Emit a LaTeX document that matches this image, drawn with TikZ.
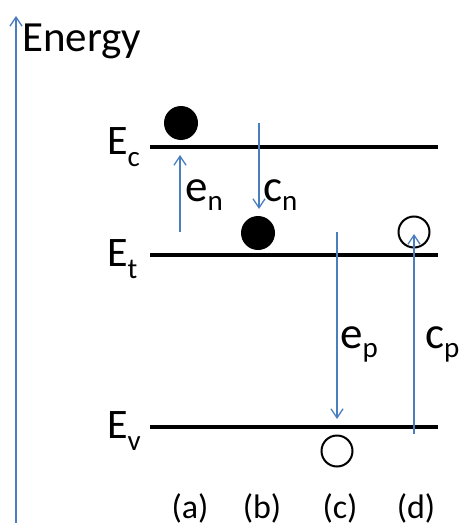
\documentclass[tikz,border=0pt]{standalone}
\usepackage{fontspec}
\setmainfont{Carlito}
\usepackage{tikz}
\usetikzlibrary{arrows.meta}
\definecolor{arrblue}{RGB}{74,126,190}
\newcommand{\lvl}[1]{E\raisebox{-12pt}{\fontsize{29}{31}\selectfont #1}}
\newcommand{\rate}[2]{#1\raisebox{-9pt}{\fontsize{29}{31}\selectfont #2}}
\tikzset{
  % --- energy levels ---------------------------------------------------------
  level/.style={line width=3.5pt},
  lvllab/.style={anchor=base west,inner sep=0pt,font=\fontsize{42}{44}\selectfont},
  % --- carriers --------------------------------------------------------------
  elec/.style={circle,fill=black,minimum size=34pt,inner sep=0pt},
  hole/.style={circle,draw=black,line width=2pt,minimum size=31pt,inner sep=0pt},
  % --- transitions -----------------------------------------------------------
  trans/.style={-{Straight Barb[length=9pt,width=12pt]},arrblue,line width=1.3pt},
  ratelab/.style={anchor=base west,inner sep=0pt,font=\fontsize{45}{47}\selectfont},
  caselab/.style={anchor=base,inner sep=0pt,font=\fontsize{34}{36}\selectfont},
}

\begin{document}
\begin{tikzpicture}[x=1pt, y=-1pt]
  \useasboundingbox (0,0) rectangle (459,527);

  % energy axis
  \coordinate (ax0) at (16,523);
  \coordinate (ax1) at (16,16);
  \draw[trans] (ax0) -- (ax1);
  \node[lvllab,font=\fontsize{43}{45}\selectfont] (energy) at (22,52) {Energy};

  % levels
  \coordinate (ec-l) at (150,147); \coordinate (ec-r) at (438,147);
  \coordinate (et-l) at (150,255); \coordinate (et-r) at (438,255);
  \coordinate (ev-l) at (150,427); \coordinate (ev-r) at (438,427);
  \draw[level] (ec-l) -- (ec-r);
  \draw[level] (et-l) -- (et-r);
  \draw[level] (ev-l) -- (ev-r);
  \node[lvllab] (ec) at (107,154) {\lvl{c}};
  \node[lvllab] (et) at (107,266) {\lvl{t}};
  \node[lvllab] (ev) at (107,438) {\lvl{v}};

  % carriers
  \node[elec] (na) at (181,123) {};
  \node[elec] (nb) at (258,233) {};
  \node[hole] (pc) at (337,451) {};
  \node[hole] (pd) at (414,232) {};

  % transitions
  \coordinate (a0) at (180,232); \coordinate (a1) at (180,155);
  \coordinate (b0) at (259,123); \coordinate (b1) at (259,209);
  \coordinate (c0) at (337,232); \coordinate (c1) at (337,419);
  \coordinate (d0) at (414,434); \coordinate (d1) at (414,234);
  \draw[trans] (a0) -- (a1);
  \draw[trans] (b0) -- (b1);
  \draw[trans] (c0) -- (c1);
  \draw[trans] (d0) -- (d1);
  \node[ratelab] (en) at (185,201) {\rate{e}{n}};
  \node[ratelab] (cn) at (263,201) {\rate{c}{n}};
  \node[ratelab] (ep) at (340,348) {\rate{e}{p}};
  \node[ratelab] (cp) at (425,348) {\rate{c}{p}};

  % cases
  \node[caselab] (la) at (190,518) {(a)};
  \node[caselab] (lb) at (262,518) {(b)};
  \node[caselab] (lc) at (340,518) {(c)};
  \node[caselab] (ld) at (416,518) {(d)};
\end{tikzpicture}
\end{document}
